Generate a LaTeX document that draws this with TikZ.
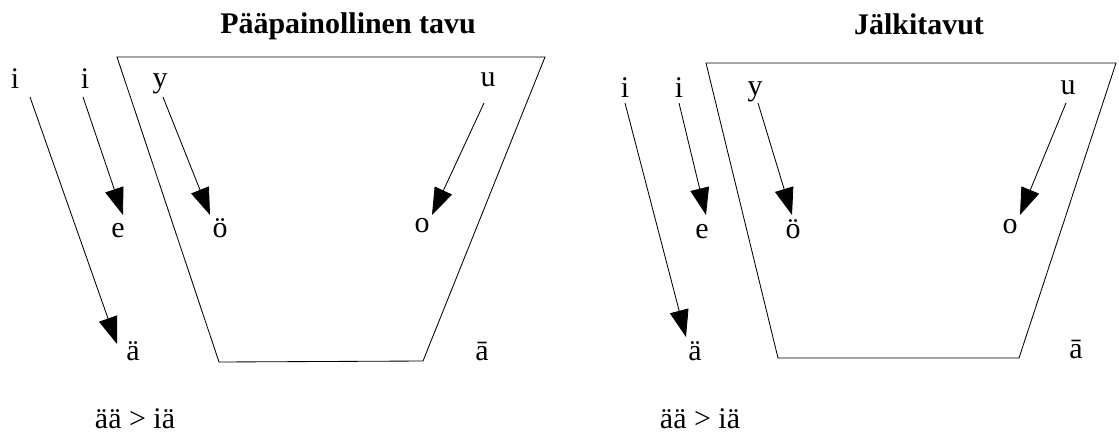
\documentclass[tikz,border=0pt]{standalone}
\usepackage{fontspec}
\setmainfont{Liberation Serif}
\usetikzlibrary{arrows.meta}

\begin{document}
\begin{tikzpicture}[
x=0.025cm, y=-0.025cm,
every node/.style={font=\fontsize{21.3}{24}\selectfont, inner sep=0pt, anchor=base},
vowel/.style={},
heading/.style={font=\fontsize{21.3}{24}\selectfont\bfseries},
mouth/.style={draw, line width=0.6pt},
change/.style={-{Triangle[length=0.675cm,width=0.475cm]}, line width=0.6pt}
]

\useasboundingbox (0,0) rectangle (1119,436);

% =====================================================
% Pääpainollinen tavu
% =====================================================

\node[heading] (headleft) at (348,33) {Pääpainollinen tavu};

% Vowel space
\draw[mouth] (117,57) -- (545,57) -- (423,361) -- (219,362) -- cycle;

% Vowels
\node[vowel] (li) at (15,88) {i};
\node[vowel] (lii) at (85,88) {i};
\node[vowel] (ly) at (160,87) {y};
\node[vowel] (lu) at (488,86) {u};
\node[vowel] (le) at (118,237) {e};
\node[vowel] (loe) at (220,237) {ö};
\node[vowel] (lo) at (422,232) {o};
\node[vowel] (lae) at (133,360) {ä};
\node[vowel] (laa) at (482,360) {ā};

\node (lnote) at (135,428) {ää > iä};

% Shifts
\coordinate (lit) at (30,97);   \coordinate (lih) at (117,344);
\coordinate (liit) at (83,97);  \coordinate (liih) at (123,215);
\coordinate (lyt) at (163,97);  \coordinate (lyh) at (210,215);
\coordinate (lut) at (484,103); \coordinate (luh) at (432,215);

\draw[change] (lit) -- (lih);
\draw[change] (liit) -- (liih);
\draw[change] (lyt) -- (lyh);
\draw[change] (lut) -- (luh);

% =====================================================
% Jälkitavut
% =====================================================

\node[heading] (headright) at (919,34) {Jälkitavut};

% Vowel space
\draw[mouth] (706,63) -- (1116,63) -- (1019,358) -- (778,358) -- cycle;

% Vowels
\node[vowel] (ri) at (625,97) {i};
\node[vowel] (rii) at (679,97) {i};
\node[vowel] (ry) at (755,95) {y};
\node[vowel] (ru) at (1068,94) {u};
\node[vowel] (re) at (702,238) {e};
\node[vowel] (roe) at (793,238) {ö};
\node[vowel] (ro) at (1010,233) {o};
\node[vowel] (rae) at (695,360) {ä};
\node[vowel] (raa) at (1076,358) {ā};

\node (rnote) at (700,428) {ää > iä};

% Shifts
\coordinate (rit) at (625,103);  \coordinate (rih) at (686,337);
\coordinate (riit) at (679,103); \coordinate (riih) at (706,215);
\coordinate (ryt) at (758,103);  \coordinate (ryh) at (792,215);
\coordinate (rut) at (1066,103); \coordinate (ruh) at (1020,215);

\draw[change] (rit) -- (rih);
\draw[change] (riit) -- (riih);
\draw[change] (ryt) -- (ryh);
\draw[change] (rut) -- (ruh);

\end{tikzpicture}
\end{document}
